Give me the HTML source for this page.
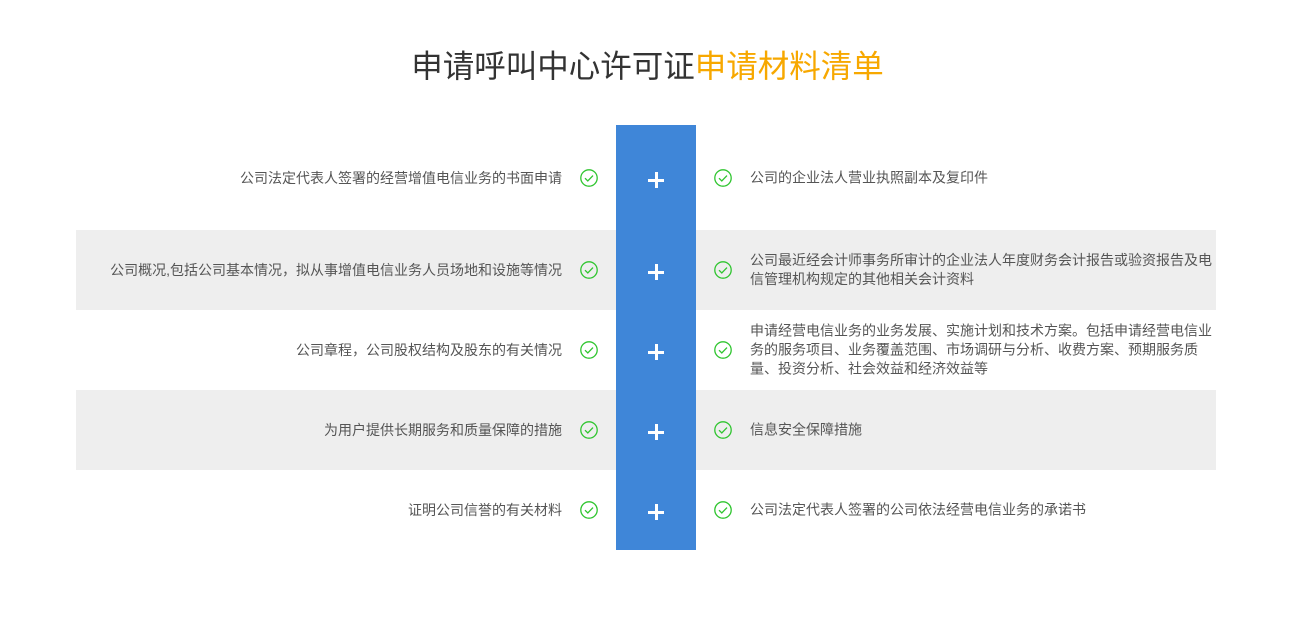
<!DOCTYPE html>
<html><head><meta charset="utf-8"><style>
body{margin:0;width:1295px;height:625px;background:#fff;font-family:"Liberation Sans","Noto Sans CJK SC",sans-serif;position:relative;overflow:hidden}
.t{position:absolute;top:42px;left:0;width:1295px;text-align:center;font-size:31.5px;color:#333;line-height:48px}
.t span{color:#f7a800}
.g{position:absolute;left:76px;width:1140px;height:80px;background:#eeeeee}
.b{position:absolute;left:616px;top:125px;width:80px;height:425px;background:#3f86d8}
.row{position:absolute;left:0;width:1295px}
.l{position:absolute;right:733px;font-size:14px;color:#555;white-space:nowrap;transform:translateY(-50%)}
.r{position:absolute;left:750px;width:464px;font-size:14px;color:#555;line-height:19px;transform:translateY(-50%)}
.c{position:absolute;width:18px;height:18px;transform:translate(-50%,-50%)}
.p{position:absolute;left:648px;width:16px;height:16px;margin-top:-6px}
.p:before{content:"";position:absolute;left:0;top:7px;width:16px;height:3px;background:#fff}
.p:after{content:"";position:absolute;left:6.5px;top:0;width:3px;height:16px;background:#fff}
</style></head><body>
<div class="t">申请呼叫中心许可证<span>申请材料清单</span></div>
<div class="g" style="top:230px"></div>
<div class="g" style="top:390px"></div>
<div class="b"></div>
<svg width="0" height="0" style="position:absolute"><defs><symbol id="ck" viewBox="0 0 18 18"><circle cx="9" cy="9" r="8.2" fill="none" stroke="#2fc52f" stroke-width="1.3"/><path d="M5 9.2l2.8 2.8 5.2-5.4" fill="none" stroke="#2fc52f" stroke-width="1.3"/></symbol></defs></svg>

<div class="row" style="top:178px"><div class="l">公司法定代表人签署的经营增值电信业务的书面申请</div><svg class="c" style="left:589px"><use href="#ck"/></svg><div class="p"></div><svg class="c" style="left:723px"><use href="#ck"/></svg><div class="r">公司的企业法人营业执照副本及复印件</div></div>
<div class="row" style="top:270px"><div class="l">公司概况,包括公司基本情况，拟从事增值电信业务人员场地和设施等情况</div><svg class="c" style="left:589px"><use href="#ck"/></svg><div class="p"></div><svg class="c" style="left:723px"><use href="#ck"/></svg><div class="r">公司最近经会计师事务所审计的企业法人年度财务会计报告或验资报告及电信管理机构规定的其他相关会计资料</div></div>
<div class="row" style="top:350px"><div class="l">公司章程，公司股权结构及股东的有关情况</div><svg class="c" style="left:589px"><use href="#ck"/></svg><div class="p"></div><svg class="c" style="left:723px"><use href="#ck"/></svg><div class="r">申请经营电信业务的业务发展、实施计划和技术方案。包括申请经营电信业务的服务项目、业务覆盖范围、市场调研与分析、收费方案、预期服务质量、投资分析、社会效益和经济效益等</div></div>
<div class="row" style="top:430px"><div class="l">为用户提供长期服务和质量保障的措施</div><svg class="c" style="left:589px"><use href="#ck"/></svg><div class="p"></div><svg class="c" style="left:723px"><use href="#ck"/></svg><div class="r">信息安全保障措施</div></div>
<div class="row" style="top:510px"><div class="l">证明公司信誉的有关材料</div><svg class="c" style="left:589px"><use href="#ck"/></svg><div class="p"></div><svg class="c" style="left:723px"><use href="#ck"/></svg><div class="r">公司法定代表人签署的公司依法经营电信业务的承诺书</div></div>
</body></html>
